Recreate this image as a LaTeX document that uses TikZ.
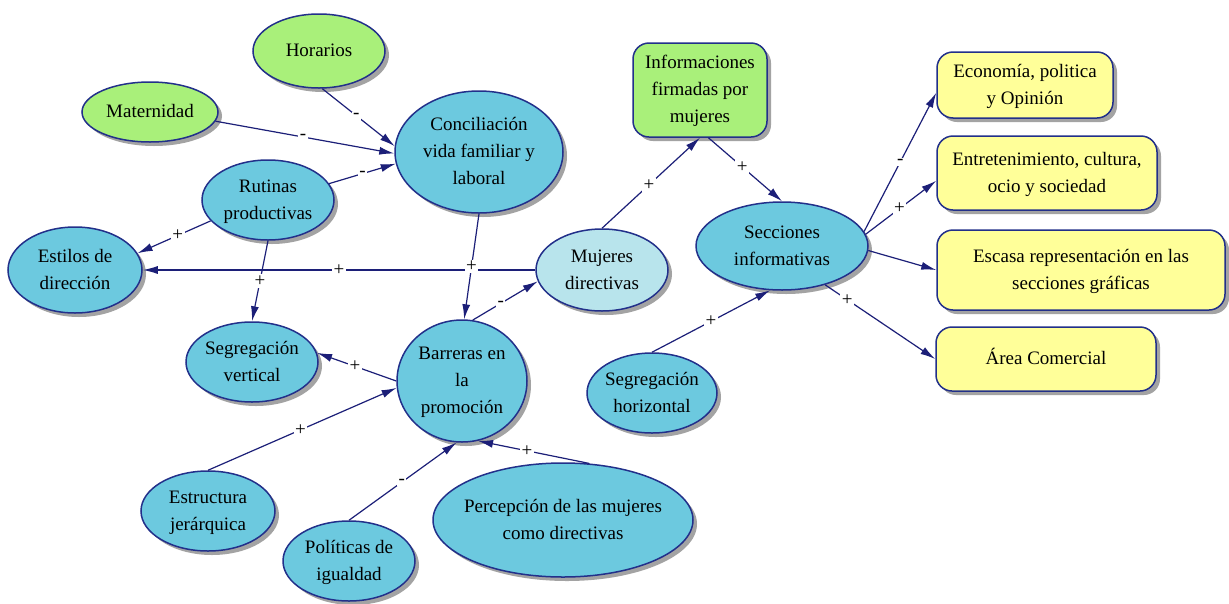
\documentclass[tikz,border=0pt]{standalone}
\usepackage{fontspec}
\setmainfont{Liberation Serif}
\newfontfamily\labfont{Liberation Serif}
\usetikzlibrary{shapes.geometric,arrows.meta,shadows}
\definecolor{bfill}{HTML}{6CC9DF}
\definecolor{lfill}{HTML}{B8E4EC}
\definecolor{gfill}{HTML}{A9F07A}
\definecolor{yfill}{HTML}{FFFF99}
\definecolor{bord}{HTML}{22308A}
\definecolor{edgec}{HTML}{1C1F78}
\newcommand\ctx[1]{\makebox[0pt]{\smash{\raisebox{-0.25em}{\begin{tabular}{@{}c@{}}#1\end{tabular}}}}}
\begin{document}
\begin{tikzpicture}[x=1pt,y=-1pt,
 base/.style={draw=bord, line width=1.5pt, inner sep=0pt, text=black,
   font=\labfont\fontsize{19}{27}\selectfont,
   drop shadow={shadow xshift=4pt, shadow yshift=-4pt, fill=black!60, opacity=0.6}},
 ell/.style={base, ellipse, fill=bfill},
 lell/.style={ell, fill=lfill},
 gell/.style={ell, fill=gfill},
 gbox/.style={base, rectangle, rounded corners=16pt, fill=gfill},
 ybox/.style={base, rectangle, rounded corners=16pt, fill=yfill},
 conn/.style={draw=edgec, line width=1.2pt, -{Latex[length=15pt,width=8pt]}},
 lbl/.style={fill=white, inner sep=1.5pt, font=\labfont\fontsize{19}{19}\selectfont, text=black}
]
\useasboundingbox[fill=white] (0,0) rectangle (1229,603);

% nodes
\node[gell, minimum width=132pt, minimum height=74pt] (hor) at (319,51) {\ctx{Horarios}};
\node[gell, minimum width=136pt, minimum height=60pt] (mat) at (150,112) {\ctx{Maternidad}};
\node[ell, minimum width=168pt, minimum height=122pt] (conc) at (479,152) {\ctx{Conciliación\\vida familiar y\\laboral}};
\node[ell, minimum width=132pt, minimum height=80pt] (rut) at (268,200) {\ctx{Rutinas\\productivas}};
\node[ell, minimum width=134pt, minimum height=86pt] (est) at (75,270) {\ctx{Estilos de\\dirección}};
\node[lell, minimum width=132pt, minimum height=82pt] (muj) at (602,270) {\ctx{Mujeres\\directivas}};
\node[gbox, minimum width=134pt, minimum height=94pt] (inf) at (700,90) {\ctx{Informaciones\\firmadas por\\mujeres}};
\node[ell, minimum width=172pt, minimum height=88pt] (sec) at (782,246) {\ctx{Secciones\\informativas}};
\node[ybox, minimum width=176pt, minimum height=66pt] (eco) at (1025,85) {\ctx{Economía, politica\\y Opinión}};
\node[ybox, minimum width=220pt, minimum height=74pt] (ent) at (1047,173) {\ctx{Entretenimiento, cultura,\\ocio y sociedad}};
\node[ybox, minimum width=288pt, minimum height=80pt] (esc) at (1081,270) {\ctx{Escasa representación en las\\secciones gráficas}};
\node[ybox, minimum width=220pt, minimum height=64pt] (area) at (1046,359) {\ctx{Área Comercial}};
\node[ell, minimum width=132pt, minimum height=80pt] (segv) at (252,362) {\ctx{Segregación\\vertical}};
\node[ell, minimum width=130pt, minimum height=122pt] (bar) at (462,381) {\ctx{Barreras en\\la\\promoción}};
\node[ell, minimum width=130pt, minimum height=80pt] (segh) at (652,393) {\ctx{Segregación\\horizontal}};
\node[ell, minimum width=134pt, minimum height=80pt] (estr) at (208,511) {\ctx{Estructura\\jerárquica}};
\node[ell, minimum width=132pt, minimum height=80pt] (pol) at (349,561) {\ctx{Políticas de\\igualdad}};
\node[ell, minimum width=260pt, minimum height=114pt] (per) at (563,520) {\ctx{Percepción de las mujeres\\como directivas}};

% connectors
\draw[conn] (hor.-85) -- node[lbl,pos=.47]{-} (conc.176);
\draw[conn] (mat.-8) -- node[lbl,pos=.49]{-} (conc.181);
\draw[conn] (rut.15) -- node[lbl,pos=.5]{-} (conc.188);
\draw[conn] (rut.200) -- node[lbl,pos=.45]{+} (est.15);
\draw[conn] (rut.south) -- node[lbl,pos=.5]{+} (segv.north);
\draw[conn] (muj.west) -- node[lbl,pos=.5]{+} (est.east);
\draw[conn] (conc.south) -- node[lbl,pos=.5]{+} (bar.88);
\draw[conn] (bar.80) -- node[lbl,pos=.43]{-} (muj.190);
\draw[conn] (muj.north) -- node[lbl,pos=.48]{+} (inf.south);
\draw[conn] (inf.-80) -- node[lbl,pos=.46]{+} (sec.north);
\draw[conn] (segh.north) -- node[lbl,pos=.5]{+} (sec.255);
\draw[conn] (sec.10) -- node[lbl,pos=.5]{-} (eco.185);
\draw[conn] (sec.8) -- node[lbl,pos=.48]{+} (ent.184);
\draw[conn] (sec.-3) -- (esc.west);
\draw[conn] (sec.-42) -- node[lbl,pos=.2]{+} (area.west);
\draw[conn] (bar.west) -- node[lbl,pos=.52]{+} (segv.8);
\draw[conn] (estr.north) -- node[lbl,pos=.49]{+} (bar.186);
\draw[conn] (pol.north) -- node[lbl,pos=.49]{-} (bar.-95);
\draw[conn] (per.65) -- node[lbl,pos=.56]{+} (bar.-75);
\end{tikzpicture}
\end{document}
